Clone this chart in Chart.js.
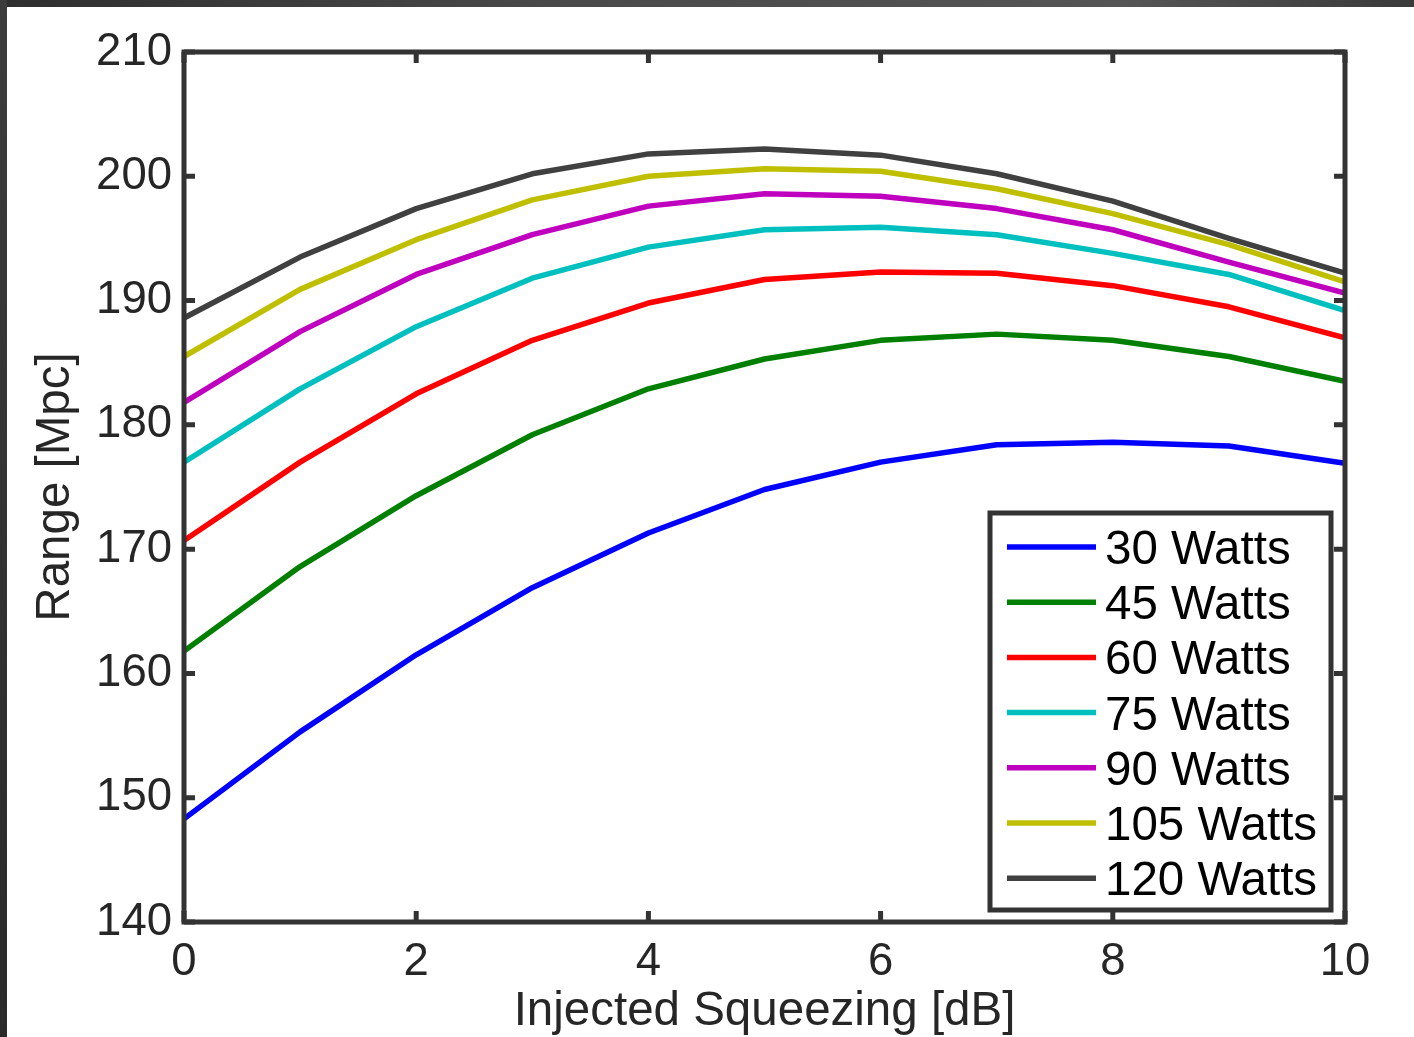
<!DOCTYPE html>
<html>
<head>
<meta charset="utf-8">
<script src="https://cdn.jsdelivr.net/npm/chart.js@4.4.0/dist/chart.umd.min.js"></script>
<style>
    body { margin: 0; background: #fff; }
    #wrap { position: relative; width: 1414px; height: 1037px; overflow: hidden; }
    #topbar { position: absolute; left: 0; top: 0; width: 1414px; height: 7px;
        background: linear-gradient(to right, #2e2e2e, #4a4a4a 40%, #555 80%, #3a3a3a); }
    #leftbar { position: absolute; left: 0; top: 0; width: 7px; height: 1037px;
        background: linear-gradient(to bottom, #3c3c3c, #2a2a2a); }
</style>
</head>
<body>
<div id="wrap">
    <canvas id="rangeChart" width="1414" height="1037"></canvas>
    <div id="topbar"></div>
    <div id="leftbar"></div>
</div>
<script>
// injected squeezing (dB) and range (Mpc) for each laser power
var squeezingDb = [0, 1, 2, 3, 4, 5, 6, 7, 8, 9, 10];
var range30W  = [148.3, 155.3, 161.5, 166.9, 171.3, 174.8, 177.0, 178.4, 178.6, 178.3, 176.9];
var range45W  = [161.8, 168.6, 174.3, 179.2, 182.9, 185.3, 186.8, 187.3, 186.8, 185.5, 183.5];
var range60W  = [170.7, 177.0, 182.5, 186.8, 189.8, 191.7, 192.3, 192.2, 191.2, 189.5, 187.0];
var range75W  = [177.0, 182.9, 187.9, 191.8, 194.3, 195.7, 195.9, 195.3, 193.8, 192.1, 189.2];
var range90W  = [181.8, 187.5, 192.1, 195.3, 197.6, 198.6, 198.4, 197.4, 195.7, 193.1, 190.6];
var range105W = [185.5, 190.9, 194.9, 198.1, 200.0, 200.6, 200.4, 199.0, 197.0, 194.5, 191.5];
var range120W = [188.6, 193.5, 197.4, 200.2, 201.8, 202.2, 201.7, 200.2, 198.0, 195.0, 192.2];

var seriesNames = ['30 Watts', '45 Watts', '60 Watts', '75 Watts', '90 Watts', '105 Watts', '120 Watts'];
var seriesColors = ['#0000ff', '#007f00', '#ff0000', '#00bfbf', '#bf00bf', '#bfbf00', '#404040'];
var seriesValues = [range30W, range45W, range60W, range75W, range90W, range105W, range120W];

var xTicks = [0, 2, 4, 6, 8, 10];
var yTicks = [140, 150, 160, 170, 180, 190, 200, 210];

var FONT = "'Liberation Sans', Arial, Helvetica, sans-serif";
var AXIS_COLOR = '#333333';

function toPoints(values) {
    return values.map(function (v, i) { return { x: squeezingDb[i], y: v }; });
}

var datasets = seriesValues.map(function (vals, i) {
    return {
        label: seriesNames[i],
        data: toPoints(vals),
        borderColor: seriesColors[i],
        backgroundColor: seriesColors[i],
        borderWidth: 5.5,
        pointRadius: 0,
        tension: 0,
        borderJoinStyle: 'round'
    };
});

// box around the axes with inward tick marks on all four sides
var axesBox = {
    id: 'axesBox',
    afterDatasetsDraw: function (chart) {
        var ctx = chart.ctx, a = chart.chartArea;
        var sx = chart.scales.x, sy = chart.scales.y;
        var tl = 11;
        ctx.save();
        ctx.strokeStyle = AXIS_COLOR;
        ctx.lineWidth = 5;
        ctx.lineCap = 'butt';
        ctx.beginPath();
        xTicks.forEach(function (t) {
            var px = sx.getPixelForValue(t);
            ctx.moveTo(px, a.bottom); ctx.lineTo(px, a.bottom - tl);
            ctx.moveTo(px, a.top); ctx.lineTo(px, a.top + tl);
        });
        yTicks.forEach(function (t) {
            var py = sy.getPixelForValue(t);
            ctx.moveTo(a.left, py); ctx.lineTo(a.left + tl, py);
            ctx.moveTo(a.right, py); ctx.lineTo(a.right - tl, py);
        });
        ctx.stroke();
        ctx.lineJoin = 'miter';
        ctx.strokeRect(a.left, a.top, a.right - a.left, a.bottom - a.top);
        ctx.restore();
    }
};

// legend box in the lower right corner of the plot
var boxLegend = {
    id: 'boxLegend',
    afterDraw: function (chart) {
        var ctx = chart.ctx;
        var bx = 990, by = 513, bw = 341, bh = 397;
        var rowY = 547, rowH = 55.2;
        ctx.save();
        ctx.fillStyle = '#ffffff';
        ctx.fillRect(bx, by, bw, bh);
        ctx.strokeStyle = AXIS_COLOR;
        ctx.lineWidth = 5;
        ctx.strokeRect(bx, by, bw, bh);
        ctx.font = '47.5px ' + FONT;
        ctx.textBaseline = 'alphabetic';
        ctx.textAlign = 'left';
        chart.data.datasets.forEach(function (ds, i) {
            var y = rowY + i * rowH;
            ctx.strokeStyle = ds.borderColor;
            ctx.lineWidth = 5.5;
            ctx.beginPath();
            ctx.moveTo(1007, y);
            ctx.lineTo(1096, y);
            ctx.stroke();
            ctx.fillStyle = '#000000';
            ctx.fillText(ds.label, 1105, y + 17);
        });
        ctx.restore();
    }
};

var rangeChart = new Chart(document.getElementById('rangeChart'), {
    type: 'line',
    data: { datasets: datasets },
    options: {
        responsive: false,
        animation: false,
        devicePixelRatio: 1,
        layout: { padding: { left: 0, top: 52, right: 69, bottom: 0 } },
        plugins: {
            legend: { display: false },
            tooltip: { enabled: false }
        },
        scales: {
            x: {
                type: 'linear',
                min: 0,
                max: 10,
                afterBuildTicks: function (scale) {
                    scale.ticks = xTicks.map(function (v) { return { value: v }; });
                },
                afterFit: function (scale) { scale.height = 115; },
                grid: { display: false, drawTicks: false },
                border: { display: false },
                ticks: { color: '#262626', padding: 13, maxRotation: 0, font: { family: FONT, size: 45.5 } },
                title: {
                    display: true,
                    text: 'Injected Squeezing [dB]',
                    color: '#262626',
                    padding: { top: 0, bottom: 1 },
                    font: { family: FONT, size: 47.5, lineHeight: 1 }
                }
            },
            y: {
                type: 'linear',
                min: 140,
                max: 210,
                afterBuildTicks: function (scale) {
                    scale.ticks = yTicks.map(function (v) { return { value: v }; });
                },
                afterFit: function (scale) { scale.width = 184; },
                grid: { display: false, drawTicks: false },
                border: { display: false },
                ticks: { color: '#262626', padding: 12, font: { family: FONT, size: 45.5 } },
                title: {
                    display: true,
                    text: 'Range [Mpc]',
                    color: '#262626',
                    padding: { top: 27, bottom: 0 },
                    font: { family: FONT, size: 47.5 }
                }
            }
        }
    },
    plugins: [axesBox, boxLegend]
});
</script>
</body>
</html>
